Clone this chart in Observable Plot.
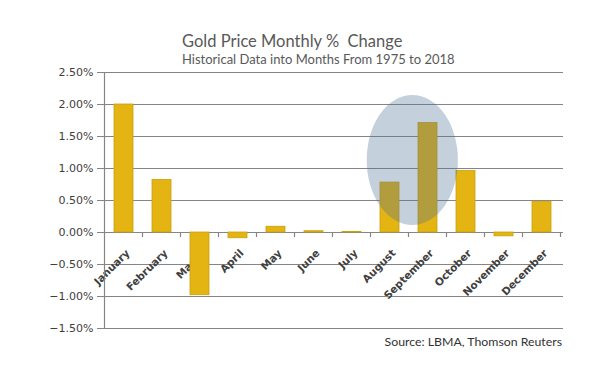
<!DOCTYPE html>
<html><head><meta charset="utf-8">
<script src="https://cdn.jsdelivr.net/npm/d3@7"></script>
<script src="https://cdn.jsdelivr.net/npm/@observablehq/plot@0.6"></script>
<style>
body{margin:0;background:#fff;}
#wrap{position:relative;width:600px;height:387px;overflow:hidden;background:#fff}
.t{position:absolute;white-space:pre;font-family:Lato,sans-serif;line-height:1}
</style></head><body>
<div id="wrap">
<div class="t" id="title" style="left:182px;top:33px;font-size:16.5px;color:#595959"></div>
<div class="t" id="subtitle" style="left:182px;top:53px;font-size:13px;color:#595959"></div>
<div class="t" id="source" style="right:38px;top:336px;font-size:12.3px;color:#333"></div>
</div>
<script>
const titleText = "Gold Price Monthly %  Change";
const subtitleText = "Historical Data into Months From 1975 to 2018";
const sourceText = "Source: LBMA, Thomson Reuters";
const months = ["January","February","March","April","May","June","July","August","September","October","November","December"];
const changes = [0.0200, 0.0082, -0.0098, -0.0009, 0.0009, 0.0002, 0.0001, 0.0078, 0.0171, 0.0096, -0.0006, 0.0048];
const yTicks = [-0.015, -0.010, -0.005, 0, 0.005, 0.010, 0.015, 0.020, 0.025];
const highlightMonths = ["August", "September"];
const highlightRange = [0.0011, 0.0214];

document.getElementById("title").textContent = titleText;
document.getElementById("subtitle").textContent = subtitleText;
document.getElementById("source").textContent = sourceText;

const data = months.map((m, i) => ({month: m, value: changes[i]}));
const gridColor = "#858585";

function bw(x) { return typeof x.bandwidth === "function" ? x.bandwidth() : x.bandwidth; }

function frameLines(index, scales) {
  const x = scales.x, y = scales.y;
  const b = bw(x);
  const g = d3.create("svg:g").attr("stroke", gridColor).attr("stroke-width", 1.2);
  const x0 = x(months[0]) - b / 2;
  g.append("line").attr("x1", x0).attr("x2", x0).attr("y1", y(yTicks[0])).attr("y2", y(yTicks[yTicks.length - 1]));
  for (const m of months) {
    const xb = x(m) + b * 1.5;
    g.append("line").attr("x1", xb).attr("x2", xb).attr("y1", y(0)).attr("y2", y(0) + 5);
  }
  return g.node();
}

function highlight(index, scales) {
  const x = scales.x, y = scales.y;
  const b = bw(x), step = b * 2;
  const left = x(highlightMonths[0]) - b / 2 - 0.1 * step;
  const right = x(highlightMonths[1]) + b * 1.5 + 0.3 * step;
  const top = y(highlightRange[1]), bottom = y(highlightRange[0]);
  return d3.create("svg:ellipse")
    .attr("cx", (left + right) / 2).attr("cy", (top + bottom) / 2)
    .attr("rx", (right - left) / 2).attr("ry", (bottom - top) / 2)
    .attr("fill", "#4f6f99").attr("fill-opacity", 0.33).node();
}

const chart = Plot.plot({
  width: 600, height: 387,
  marginLeft: 102, marginRight: 37, marginTop: 72, marginBottom: 59,
  style: {fontFamily: "DejaVu Sans, sans-serif", background: "transparent", color: "#404040"},
  x: {domain: months, paddingInner: 0.5, paddingOuter: 0.25, axis: null},
  y: {domain: [yTicks[0], yTicks[yTicks.length - 1]]},
  marks: [
    Plot.ruleY(yTicks, {stroke: gridColor, strokeWidth: 1.2}),
    Plot.text(months, {x: d => d, y: d => 0, text: d => d, rotate: -45, textAnchor: "end", lineAnchor: "top", dx: 1, dy: 16, fontSize: 10.5, fontWeight: "bold", fill: "#404040"}),
    Plot.barY(data, {x: "month", y: "value", fill: "#e3b412", stroke: "#c9a010", strokeWidth: 0.8}),
    frameLines,
    Plot.axisY({ticks: yTicks, tickFormat: d3.format(".2%"), tickSize: 5, tickPadding: 4, fontSize: 11, stroke: gridColor, fill: "#404040", label: null}),
    highlight
  ]
});
document.getElementById("wrap").prepend(chart);
chart.style.position = "absolute";
chart.style.left = "0";
chart.style.top = "0";
</script>
</body></html>
